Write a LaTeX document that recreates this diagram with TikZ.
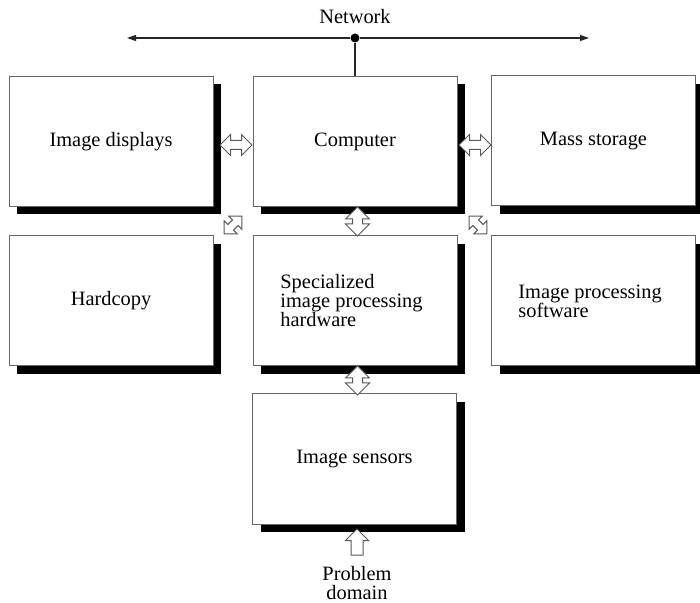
\documentclass[tikz,border=0pt]{standalone}
\usepackage{fontspec}
\setmainfont{Liberation Serif}
\usetikzlibrary{shapes.arrows,shadows,arrows.meta}
\begin{document}
\begin{tikzpicture}[x=0.5pt,y=-0.5pt,
  txt/.style={font=\fontsize{10.2}{9.5}\selectfont, inner sep=0pt},
  box/.style={txt, draw=black!60, line width=0.5pt, fill=white,
    minimum width=102pt, minimum height=65pt,
    drop shadow={shadow xshift=4pt, shadow yshift=-4pt, fill=black, opacity=1}},
  arr/.style={draw=black!65, fill=white, line width=0.5pt, inner xsep=0pt, inner ysep=0pt, minimum width=0pt},
  harrow/.style={arr, shape=double arrow, minimum height=16pt, double arrow head extend=3pt},
  varrow/.style={arr, shape=double arrow, minimum height=14.5pt, double arrow head extend=3.5pt, rotate=90},
  darrowbox/.style={arr, shape=double arrow, minimum height=12.5pt, double arrow head extend=2.6pt},
  uparrow/.style={arr, shape=single arrow, minimum height=13pt, single arrow head extend=2.75pt, rotate=90},
  net/.style={line width=0.6pt, black!85}
]
\useasboundingbox[fill=white] (0,0) rectangle (700,603);

% boxes
\node[box] (disp) at (111,141.5) {Image displays};
\node[box] (comp) at (355,141.5) {Computer};
\node[box] (mass) at (593.5,141) {Mass storage};
\node[box] (hard) at (111,301) {Hardcopy};
\node[box] (spec) at (355,301) {};
\node[box] (soft) at (593.5,301) {};
\node[box] (sens) at (354.5,459) {Image sensors};

\node[txt, align=left, anchor=west] (spectxt) at (280,301) {Specialized\\image processing\\hardware};
\node[txt, align=left, anchor=west] (softtxt) at (518,301) {Image processing\\software};

% network
\node[circle, fill=black, inner sep=0pt, minimum size=4.5pt] (dot) at (355,38) {};
\coordinate (netl) at (127,38);
\coordinate (netr) at (589,38);
\draw[net, -{Triangle[length=4.5pt,width=3pt]}] (dot) -- (netl);
\draw[net, -{Triangle[length=4.5pt,width=3pt]}] (dot) -- (netr);
\draw[net] (dot) -- (comp.north);
\node[txt] (nettxt) at (355,17) {Network};

% block arrows
\node[harrow] (a1) at (236,145) {\rule{0pt}{4pt}};
\node[harrow] (a2) at (475,145) {\rule{0pt}{4pt}};
\node[varrow] (a3) at (357.5,221.5) {\rule{0pt}{4.5pt}};
\node[varrow] (a4) at (357.5,380.5) {\rule{0pt}{4.5pt}};
\node[darrowbox, rotate=45] (a5) at (233,225) {\rule{0pt}{3.5pt}};
\node[darrowbox, rotate=-45] (a6) at (478,225) {\rule{0pt}{3.5pt}};
\node[uparrow] (a7) at (357,545) {\rule{0pt}{5.5pt}};

\node[txt, align=center] (prob) at (357,583) {Problem\\domain};
\end{tikzpicture}
\end{document}
